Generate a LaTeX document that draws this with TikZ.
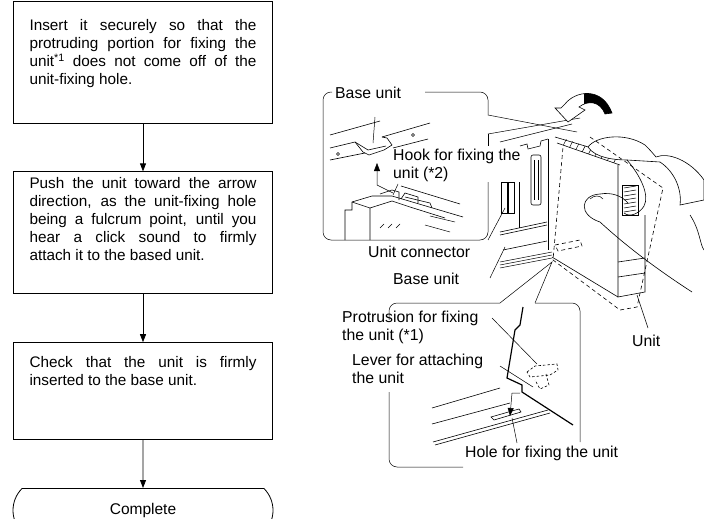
\documentclass[tikz,border=0pt]{standalone}
\usepackage{fontspec}
\setmainfont{Liberation Sans}
\usetikzlibrary{arrows.meta,positioning,shapes.misc,calc}

\newcommand{\steptext}[3]{\parbox[t][#1][t]{227pt}{\sloppy\vspace*{#2}\strut #3}}

\tikzset{
  stepbox/.style={draw, line width=0.8pt, inner xsep=16pt, inner ysep=0pt, font=\fontsize{15.3}{18}\selectfont},
  termbox/.style={draw, line width=0.8pt, rounded rectangle, rounded rectangle arc length=90,
    minimum width=260pt, minimum height=44pt, inner sep=0pt, font=\fontsize{15.5}{18}\selectfont},
  lbl/.style={anchor=base west, inner sep=0pt, align=left, font=\fontsize{15.8}{18}\selectfont},
  part/.style={line width=0.6pt},
  hidden/.style={line width=0.6pt, dash pattern=on 4pt off 3pt},
  lead/.style={line width=0.5pt},
}

\begin{document}
\begin{tikzpicture}[x=1pt, y=-1pt, >={Triangle[length=8pt,width=6pt]}, node distance=48pt]
\useasboundingbox (0,0) rectangle (704,519);

% flow of steps
\node[stepbox] (s1) at (143,62) {\steptext{122pt}{17.4pt}{Insert it securely so that the\linebreak
  protruding portion for fixing the\linebreak unit\textsuperscript{*1} does not come off of the\linebreak
  unit-fixing hole.}};
\node[stepbox, below=of s1] (s2) {\steptext{122pt}{4pt}{Push the unit toward the arrow\linebreak
  direction, as the unit-fixing hole\linebreak being a fulcrum point, until you\linebreak
  hear a click sound to firmly\linebreak attach it to the based unit.}};
\node[stepbox, below=of s2] (s3) {\steptext{97pt}{12.4pt}{Check that the unit is firmly\linebreak
  inserted to the base unit.}};
\node[termbox, below=of s3] (s4) {Complete};

\draw[->, line width=0.8pt] (s1) -- (s2);
\draw[->, line width=0.8pt] (s2) -- (s3);
\draw[->, line width=0.8pt] (s3) -- (s4);

% labels (base = last line)
\node[lbl] (lbase1) at (335,98) {Base unit};
\node[lbl] (lhook) at (393,178) {Hook for fixing the\\unit (*2)};
\node[lbl] (lconn) at (368,257) {Unit connector};
\node[lbl] (lbase2) at (393,284) {Base unit};
\node[lbl] (lprot) at (342,340) {Protrusion for fixing\\the unit (*1)};
\node[lbl] (llever) at (352,383) {Lever for attaching\\the unit};
\node[lbl] (lhole) at (465,457) {Hole for fixing the unit};
\node[lbl] (lunit) at (632,346) {Unit};

% upper callout
\draw[lead, rounded corners=8pt] (425,92) -- (488,92) -- (488,115);
\draw[lead] (488,134) -- (488,146);
\draw[lead, rounded corners=8pt] (488,182) -- (488,240) -- (323,240) -- (323,92) -- (332,92);
\draw[lead] (488,115) -- (577,132);
\draw[lead] (488,134) -- (580,118);

% upper callout detail: rail with hook
\draw[part] (330,135) -- (380,121);
\draw[part] (382,137) -- (430,123);
\draw[part] (330,148) -- (355,142) -- (363,152) -- (369,155) -- (384,150) -- (392,145) -- (387,138) -- (382,137);
\draw[part] (355,142) -- (368,150) -- (386,146);
\draw[part] (330,160) -- (365,153);
\draw[part] (393,148) -- (428,139);
\draw[part] (338,154) circle (1.5pt) (413,135) circle (1.5pt);
\draw[lead] (375,117) -- (373,143);
\draw[lead, ->] (393,193) -- (377,185) -- (377,163);
\draw[lead] (398,184) -- (393,195);

% upper callout detail: unit hook side
\draw[part] (345,240) -- (345,210) -- (352,210) -- (352,202) -- (372,196) -- (392,196) -- (463,217);
\draw[part] (352,202) -- (370,208) -- (370,240);
\draw[part] (370,208) -- (392,201);
\draw[part] (380,194) -- (392,190) -- (399,192) -- (399,200);
\draw[part] (401,199) -- (405,193) -- (418,197) -- (418,203);
\draw[part] (392,201) -- (410,207) -- (445,218);
\draw[part] (401,186) -- (460,204);
\draw[part] (405,197) -- (430,203) -- (432,208);
\foreach \dx in {0,8,16} {\draw[lead] (380+\dx,228) -- (384+\dx,224);}
\draw[lead] (430,216) -- (455,222);
\draw[lead] (425,225) -- (450,232);

% base unit behind
\draw[part] (500,142) -- (548,130) -- (572,124);
\draw[part] (520,146) -- (527,144) -- (528,149) -- (540,146) -- (541,141) -- (548,139);
\draw[part] (548,139) -- (548,250);
\draw[part, rounded corners=2pt] (531,155) rectangle (541,205);
\draw[lead] (534,160) -- (534,200) (538,160) -- (538,200);
\draw[part] (501,182) rectangle (507,213);
\draw[part] (508,182) rectangle (514,213);
\draw[part] (519,182) -- (519,228);
\draw[part] (500,232) -- (547,222);
\draw[part] (500,235) -- (547,225);
\draw[part] (503,250) -- (547,241);
\foreach \dy in {0,3,6} {\draw[lead] (500,262+\dy) -- (552,252+\dy);}
\draw[lead] (488,240) -- (505,208);
\draw[lead] (490,278) -- (505,247);

% unit
\draw[part] (555,137) -- (625,158);
\draw[part] (557,143) -- (620,165);
\foreach \t in {0.1,0.2,...,0.9} {\draw[lead] ($(557,143)!\t!(620,165)$) -- ++(3,-6);}
\draw[part] (552,257) -- (618,297);
\draw[part] (618,165) -- (618,297) -- (645,292) -- (645,215);
\draw[part] (618,262) -- (645,258) (618,277) -- (645,273);
\draw[part] (622,185) rectangle (638,215);
\foreach \dy in {2,6,...,26} {\draw[lead] (624,186+\dy) -- (636,184+\dy);}

% hand
\draw[part, fill=white] (588,147) .. controls (596,136) and (625,132) .. (645,145)
  .. controls (650,150) .. (656,157) .. controls (668,152) and (690,160) .. (704,180)
  -- (704,200) -- (680,205) .. controls (682,190) and (675,172) .. (660,162)
  -- (627,160) .. controls (615,160) and (595,158) .. cycle;
\draw[part] (627,160) .. controls (640,175) and (650,195) .. (644,206)
  .. controls (640,213) and (630,218) .. (624,213);
\draw[part] (600,194) .. controls (580,195) and (578,215) .. (600,222)
  .. controls (625,245) and (655,268) .. (692,292);
\draw[part] (600,194) .. controls (612,192) and (622,196) .. (628,203);
\draw[lead] (590,199) .. controls (594,195) and (600,195) .. (603,199);
\draw[part] (690,215) .. controls (700,230) and (700,245) .. (704,250);

% dashed outline of the unit
\draw[hidden] (590,137) -- (663,188) -- (637,307) -- (620,310) -- (553,260) -- (563,147);
\draw[hidden] (555,245) -- (580,240) -- (582,246) -- (558,251) -- cycle;

% rotation arrow
\draw[part, fill=white] (565,104) .. controls (575,91) and (602,86) .. (612,113) -- (605,114)
  .. controls (600,101) and (588,100) .. (579,107) -- (585,110) -- (568,122) -- (555,108) -- (561,108) -- cycle;
\begin{scope}
  \clip (584,80) rectangle (620,120);
  \fill (565,104) .. controls (575,91) and (602,86) .. (612,113) -- (605,114)
    .. controls (600,101) and (588,100) .. (579,107) -- cycle;
\end{scope}
\draw[lead] (648,328) -- (637,295);

% lower callout
\draw[lead, rounded corners=8pt] (389,320) -- (389,303) -- (500,303);
\draw[lead, rounded corners=8pt] (389,392) -- (389,467) -- (463,467);
\draw[lead, rounded corners=8pt] (535,303) -- (580,303) -- (580,442);
\draw[lead] (500,303) -- (552,262) -- (535,303);

% lower callout detail
\draw[line width=1.2pt] (523,307) -- (520,325) -- (515,330) -- (507,378) -- (522,385) -- (522,392) -- (573,425);
\draw[lead, ->] (520,393) -- (512,393) -- (510,416);
\draw[part] (491,417) -- (519,409) -- (521,412) -- (494,420) -- cycle;
\draw[part] (432,408) -- (500,388);
\draw[part] (432,424) -- (510,403);
\draw[part] (433,442) -- (548,410);
\draw[part] (435,445) -- (550,413);
\draw[hidden, dash pattern=on 2.5pt off 2pt] (527,372) -- (535,366) -- (557,364) -- (558,370) -- (550,375) -- (530,377) -- cycle;
\draw[hidden, dash pattern=on 2.5pt off 2pt] (546,374) -- (549,385) -- (540,389) -- (535,380);
\draw[lead] (492,318) -- (537,364);
\draw[lead] (500,366) -- (533,387);
\draw[lead] (517,443) -- (512,418);
\end{tikzpicture}
\end{document}
